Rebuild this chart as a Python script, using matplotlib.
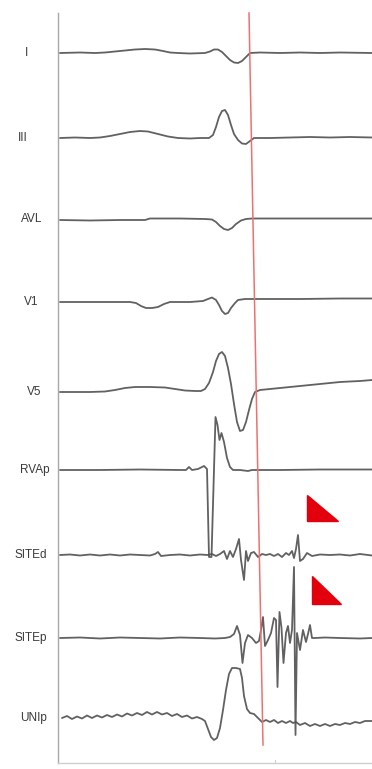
import matplotlib
matplotlib.use("Agg")
import matplotlib.pyplot as plt
from matplotlib.patches import Polygon

# ---------------- data (time in px-units, amplitude in px-units, + = up) ----
leads = ["I", "III", "AVL", "V1", "V5", "RVAp", "SITEd", "SITEp", "UNIp"]

I_t = [60, 80, 95, 105, 115, 125, 135, 145, 155, 163, 170, 178, 190, 205, 210, 214, 218, 222, 226, 230, 234, 238, 242, 246, 250, 260, 280, 300, 320, 340, 372]
I_v = [0, 0.5, 0, 0.5, 1.5, 2.5, 3.5, 4, 3.5, 2, 0.5, 0, -0.5, 0, 1.5, 3.5, 3.5, 1, -3, -7, -9.5, -10, -8, -4, 0, 0.5, 0, 0.5, 0, 0.5, 0]

III_t = [60, 75, 90, 100, 110, 120, 130, 140, 148, 158, 168, 178, 190, 200, 209, 213, 216, 219, 222, 225, 228, 231, 234, 238, 242, 246, 250, 254, 270, 290, 310, 330, 350, 372]
III_v = [0, 0.5, 0, 0.5, 2, 4, 6, 7, 6.5, 4, 1.5, 0, -0.5, 0, 0, 3, 11, 21, 27, 28, 23, 13, 4, -2, -5.5, -6, -3, 0, 0, 0.5, 1, 0.5, 1, 0.5]

AVL_t = [60, 90, 120, 145, 150, 180, 205, 212, 216, 220, 224, 228, 232, 236, 241, 246, 252, 280, 320, 372]
AVL_v = [-1, -1.5, -1, -1, 0.5, 0.5, 0, -0.5, -3, -7, -10, -11, -9, -5, -1.5, 0, 0.5, 0.5, 0.5, 0.5]

V1_t = [60, 100, 130, 136, 141, 146, 152, 158, 164, 170, 190, 203, 208, 212, 216, 219, 222, 225, 228, 231, 235, 238, 245, 270, 300, 340, 372]
V1_v = [0, 0, 0, -1, -4, -6, -6, -5, -2, 0, 0, 1, 3, 4.5, 2, -3, -9, -12, -11, -6, -1, 2, 3, 3, 3, 3.5, 3.5]

V5_t = [60, 90, 105, 115, 125, 135, 150, 165, 175, 185, 195, 201, 205, 209, 213, 216, 219, 222, 225, 228, 231, 234, 237, 240, 243, 246, 249, 252, 255, 260, 280, 300, 320, 340, 360, 372]
V5_v = [0, 0, 0.5, 2, 4, 5, 5, 4.5, 3, 1.5, 1, 1, 3, 9, 20, 31, 38, 40, 36, 24, 8, -12, -30, -39, -38, -30, -18, -7, 0, 2, 4, 6, 8, 10, 11, 12]

RVA_t = [60, 100, 140, 180, 186, 189, 192, 198, 204, 207, 209, 211.5, 215.5, 217.5, 219.5, 221.5, 224, 227, 230, 233, 240, 248, 252, 280, 320, 372]
RVA_v = [0, 0, 0.5, 0, 0, 3, 0, 1, 4, 1, -87, -87, 53, 45, 30, 37, 28, 12, 3, 0, 0, -1, 0, 0, 0.5, 0.5]

SD_t = [60, 70, 80, 90, 100, 110, 120, 130, 140, 150, 155, 158, 161, 170, 180, 190, 200, 208, 212, 216, 220, 224, 227, 230, 233, 236, 239, 241, 244, 246, 248, 251, 254, 258, 262, 266, 270, 274, 278, 282, 286, 289, 292, 294, 296, 298, 300, 303, 307, 312, 320, 330, 340, 350, 360, 372]
SD_v = [0, 0.5, -0.5, 0.5, -0.5, 0.5, -0.5, 0.5, 0, -0.5, 1, 3, -1, 0, 0.5, -0.5, 0.5, 0, 1, -1, 1, 4, -4, 4, -2, 6, 16, -5, -25, 4, -6, 2, 3, -2, 1, 0, 1, -1, 1, -2, 2, 0, 4, -3, 6, 20, -6, -4, 2, -1, 0.5, 0, 0.5, -0.5, 1, -0.5]

SP_t = [60, 80, 100, 120, 140, 160, 180, 200, 215, 225, 230, 234, 237, 240, 242.5, 245, 248, 252, 256, 259, 261, 263, 265, 268, 271, 274, 276, 277.5, 279.5, 281.5, 283.5, 286, 288, 290, 292, 294, 295.5, 297, 300, 303, 306, 308, 310, 312, 315, 325, 340, 360, 372]
SP_v = [0, 0.5, -0.5, 0.5, 0, -0.5, 0.5, 0, -0.5, 0, 1, 4, 12, 3, -25, -5, 3, 0, -5, -3, 8, 21, -8, -2, 5, 20, 18, -49, 26, 10, -25, 5, 12, -5, 8, 71, -97, 5, -12, 8, -4, 4, 13, 0, 0, 0.5, 0, -0.5, 0]

UN_t = [62, 67, 72, 77, 82, 87, 92, 97, 102, 107, 112, 117, 122, 127, 132, 137, 142, 147, 152, 157, 162, 167, 172, 177, 182, 187, 192, 197, 202,
        205, 208, 211, 214, 217, 220, 223, 226, 229, 232, 236, 240, 242, 244, 247, 250, 254, 258, 262, 266, 270, 274, 278, 282, 286, 290, 293, 296, 300, 305, 310,
        315, 320, 325, 330, 335, 340, 345, 350, 355, 360, 365, 372]
UN_v = [0, 2, -1, 1.5, -0.5, 2.5, 0, 2.5, 0.5, 3, 1, 3.5, 1.5, 4.5, 2.5, 5, 3, 6, 3.5, 6, 3.5, 5, 2, 4, 1, 2.5, -0.5, 1, -1,
        -3, -11, -19, -22, -20, -10, 8, 28, 44, 50, 50, 49, 40, 22, 9, 5, 4, 0, -4, -2, -4, -2, -5, -3, -5, -3, -5, -4, -7, -5, -8,
        -6, -8, -6, -8, -6, -7, -5, -6, -4, -5, -3, -3]

traces = [(I_t, I_v), (III_t, III_v), (AVL_t, AVL_v), (V1_t, V1_v), (V5_t, V5_v),
          (RVA_t, RVA_v), (SD_t, SD_v), (SP_t, SP_v), (UN_t, UN_v)]

# ---------------- layout ----------------
baselines = [53, 138, 219, 302, 392, 470, 555, 638, 718]
label_x = [26, 23, 32, 31, 34, 35, 31, 31, 34]

fig = plt.figure(figsize=(3.72, 7.69), dpi=100)
ax = fig.add_axes([0, 0, 1, 1])
ax.set_xlim(0, 372)
ax.set_ylim(769, 0)
ax.axis("off")

# frame lines
ax.plot([58, 58], [13, 763], color="#a8a8a8", lw=1.0)
ax.plot([58, 372], [763, 763], color="#cfcfcf", lw=1.0)
ax.plot([275, 275], [760, 763], color="#cfcfcf", lw=0.8)

for (t, v), base, name, lx in zip(traces, baselines, leads, label_x):
    ax.plot(t, [base - a for a in v], color="#505050", lw=1.3,
            solid_joinstyle="round", solid_capstyle="round", alpha=0.9)
    ax.text(lx, base, name, ha="center", va="center", fontsize=8.5,
            color="#3a3a3a", family="Liberation Sans")

# red marker line
ax.plot([249, 263], [13, 745], color="#f07070", lw=1.1)

# red arrowheads
for tri in ([(307, 495), (307, 521), (338, 521)],
            [(312, 576), (312, 604), (341, 604)]):
    ax.add_patch(Polygon(tri, closed=True, facecolor="#e2000c", edgecolor="#e2000c", lw=1))

fig.savefig("out.png", dpi=100, facecolor="white")
